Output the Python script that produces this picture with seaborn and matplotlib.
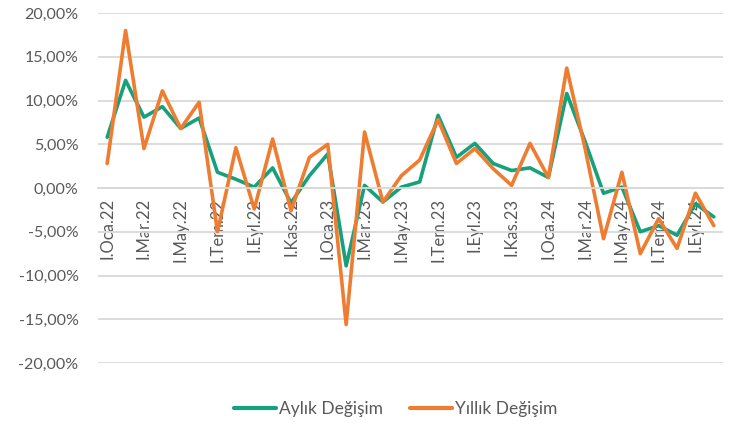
import numpy as np
import pandas as pd
import matplotlib
matplotlib.use("Agg")
import matplotlib.pyplot as plt
from matplotlib.ticker import FuncFormatter, FixedLocator
import seaborn as sns

months = [
    "Oca.22", "Şub.22", "Mar.22", "Nis.22", "May.22", "Haz.22",
    "Tem.22", "Ağu.22", "Eyl.22", "Eki.22", "Kas.22", "Ara.22",
    "Oca.23", "Şub.23", "Mar.23", "Nis.23", "May.23", "Haz.23",
    "Tem.23", "Ağu.23", "Eyl.23", "Eki.23", "Kas.23", "Ara.23",
    "Oca.24", "Şub.24", "Mar.24", "Nis.24", "May.24", "Haz.24",
    "Tem.24", "Ağu.24", "Eyl.24", "Eki.24",
]
aylik = [
    5.8, 12.3, 8.1, 9.3, 6.8, 8.0, 1.8, 1.0, 0.1, 2.3, -1.7, 1.4,
    3.9, -8.9, 0.3, -1.6, 0.1, 0.7, 8.3, 3.5, 5.1, 2.8, 2.0, 2.3,
    1.2, 10.8, 5.3, -0.6, 0.1, -5.0, -4.3, -5.4, -1.8, -3.3,
]
yillik = [
    2.8, 18.0, 4.5, 11.1, 6.8, 9.8, -5.0, 4.6, -2.4, 5.6, -2.6, 3.5,
    5.0, -15.6, 6.4, -1.6, 1.4, 3.2, 7.8, 2.8, 4.5, 2.2, 0.3, 5.1,
    1.2, 13.7, 4.5, -5.8, 1.8, -7.5, -3.5, -6.9, -0.6, -4.3,
]
series_names = ["Aylık Değişim", "Yıllık Değişim"]
colors = ["#17a07c", "#ee7d31"]

df = pd.concat([
    pd.DataFrame({"i": np.arange(len(months)), "val": aylik, "seri": series_names[0]}),
    pd.DataFrame({"i": np.arange(len(months)), "val": yillik, "seri": series_names[1]}),
])

sns.set_style("white")
plt.rcParams["font.family"] = ["Lato", "DejaVu Sans"]

fig = plt.figure(figsize=(7.41, 4.25), dpi=100)
ax = fig.add_axes([98 / 741, 1 - 363 / 425, 625 / 741, 350 / 425])

sns.lineplot(data=df, x="i", y="val", hue="seri", palette=colors,
             linewidth=2.6, ax=ax, legend=False)

ax.set_xlim(-0.5, len(months) - 0.5)
ax.set_ylim(-20, 20)
ax.set_yticks(np.arange(-20, 21, 5))
ax.yaxis.set_major_formatter(FuncFormatter(lambda v, p: f"{v:.2f}%".replace(".", ",")))
ax.grid(axis="y", color="#d9d9d9", linewidth=1.3)
ax.set_axisbelow(True)

for s in ["left", "right", "top"]:
    ax.spines[s].set_visible(False)
ax.spines["bottom"].set_position(("data", 0))
ax.spines["bottom"].set_color("#d9d9d9")
ax.spines["bottom"].set_linewidth(1.3)

label_pos = np.arange(0, len(months), 2)
ax.set_xticks(label_pos)
ax.set_xticklabels(["I." + months[k] for k in label_pos], rotation=90, va="top")
ax.xaxis.set_minor_locator(FixedLocator(np.arange(-0.5, len(months), 2)))
ax.tick_params(axis="x", which="major", length=0, pad=7, labelsize=12, labelcolor="#595959")
ax.tick_params(axis="x", which="minor", length=5, width=1.3, color="#d9d9d9")
ax.tick_params(axis="y", length=0, pad=14, labelsize=11.5, labelcolor="#595959")
ax.set_xlabel("")
ax.set_ylabel("")

handles = [plt.Line2D([], [], color=c, linewidth=3) for c in colors]
fig.legend(handles, series_names, loc="center", bbox_to_anchor=(0.534, 0.038),
           ncol=2, frameon=False, fontsize=12.5, handlelength=2.4,
           handletextpad=0.15, columnspacing=1.6, labelcolor="#595959")

fig.savefig("out.png", dpi=100)
